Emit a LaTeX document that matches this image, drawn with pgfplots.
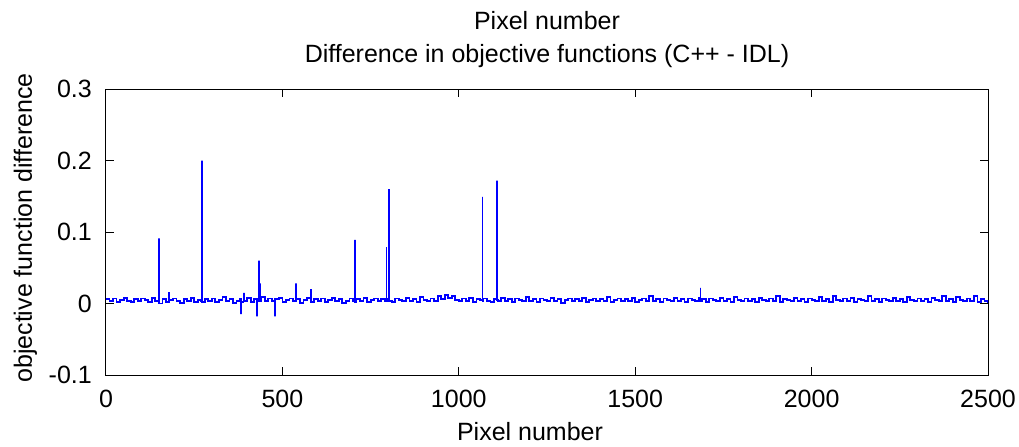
\documentclass[border=0pt]{standalone}
\usepackage{fontspec}
\setmainfont{Liberation Sans}
\usepackage{pgfplots}
\pgfplotsset{compat=1.18}
\newcommand{\mfont}{\fontsize{25bp}{30bp}\selectfont}
\definecolor{mblue}{RGB}{0,0,255}
\begin{document}
\begin{tikzpicture}
\path[use as bounding box] (-106bp,-72bp) rectangle (913bp,375bp);
\begin{axis}[
  scale only axis, width=882bp, height=286bp,
  xmin=0, xmax=2500, ymin=-0.1, ymax=0.3,
  xtick={0,500,1000,1500,2000,2500},
  xticklabels={0,500,1000,1500,2000,2500},
  ytick={-0.1,0,0.1,0.2,0.3},
  yticklabels={-0.1,0,0.1,0.2,0.3},
  tick align=inside, tick pos=both, major tick length=8bp,
  axis line style={line width=1bp},
  every tick/.style={black, line width=1bp},
  xticklabel style={font=\mfont, anchor=base, yshift=-32bp, inner sep=0pt},
  yticklabel style={font=\mfont, anchor=east, xshift=-14bp, inner sep=0pt},
]
\addplot[mblue, line width=1.8bp, const plot] table {
x y
0 0.006
10 0.003
20 0.007
30 0.002
40 0.005
50 0.008
60 0.004
70 0.002
80 0.006
90 0.003
100 0.007
110 0.005
120 0.002
130 0.008
140 0.004
150 0.003
151 0.091
151 0.000
160 0.006
170 0.002
179 0.016
179 0.005
190 0.007
200 0.003
210 0.001
220 0.006
230 0.004
240 0.008
250 0.002
260 0.005
270 0.003
272 0.200
272 0.002
280 0.006
290 0.004
300 0.007
310 0.002
320 0.005
330 0.009
340 0.003
350 0.006
360 0.001
370 0.004
380 0.007
382 -0.015
382 0.002
390 0.005
391 0.015
391 0.003
400 0.008
410 0.002
420 0.006
429 -0.018
429 0.004
434 0.060
434 0.005
438 0.028
438 0.003
440 0.009
450 0.004
460 0.007
470 0.003
478 -0.018
478 0.002
480 0.006
490 0.008
500 0.002
510 0.005
520 0.007
530 0.003
538 0.028
538 0.004
540 0.006
550 0.001
560 0.005
570 0.008
580 0.003
582 0.020
582 0.002
590 0.006
600 0.004
610 0.007
620 0.002
630 0.005
640 0.008
650 0.003
660 0.006
670 0.001
680 0.004
690 0.007
700 0.003
705 0.089
705 0.002
710 0.006
720 0.004
730 0.008
740 0.002
750 0.005
760 0.007
770 0.003
780 0.006
790 0.004
795 0.079
795 0.003
800 0.006
802 0.160
802 0.004
810 0.002
820 0.007
830 0.005
840 0.003
850 0.008
860 0.004
870 0.006
880 0.002
890 0.009
900 0.005
910 0.003
920 0.007
930 0.004
940 0.010
950 0.006
960 0.012
970 0.008
980 0.011
990 0.005
1000 0.003
1010 0.007
1020 0.004
1030 0.008
1040 0.002
1050 0.006
1060 0.005
1067 0.149
1067 0.003
1070 0.007
1080 0.004
1090 0.002
1100 0.006
1108 0.172
1108 0.005
1110 0.003
1120 0.008
1130 0.004
1140 0.006
1150 0.002
1160 0.007
1170 0.005
1180 0.003
1190 0.009
1200 0.004
1210 0.006
1220 0.002
1230 0.007
1240 0.005
1250 0.003
1260 0.008
1270 0.004
1280 0.006
1290 0.001
1300 0.005
1310 0.007
1320 0.003
1330 0.006
1340 0.004
1350 0.008
1360 0.002
1370 0.005
1380 0.007
1390 0.003
1400 0.006
1410 0.004
1420 0.009
1430 0.002
1440 0.005
1450 0.007
1460 0.003
1470 0.006
1480 0.004
1490 0.008
1500 0.002
1510 0.005
1520 0.007
1530 0.003
1540 0.010
1550 0.004
1560 0.006
1570 0.002
1580 0.007
1590 0.005
1600 0.003
1610 0.008
1620 0.004
1630 0.006
1640 0.002
1650 0.007
1660 0.005
1670 0.003
1680 0.008
1685 0.022
1685 0.004
1690 0.006
1700 0.002
1710 0.007
1720 0.005
1730 0.003
1740 0.008
1750 0.004
1760 0.006
1770 0.002
1780 0.009
1790 0.005
1800 0.003
1810 0.007
1820 0.004
1830 0.006
1840 0.002
1850 0.008
1860 0.005
1870 0.003
1880 0.007
1890 0.004
1900 0.010
1910 0.002
1920 0.006
1930 0.005
1940 0.003
1950 0.008
1960 0.004
1970 0.006
1980 0.002
1990 0.007
2000 0.005
2010 0.003
2020 0.009
2030 0.004
2040 0.006
2050 0.002
2060 0.011
2070 0.005
2080 0.003
2090 0.007
2100 0.004
2110 0.008
2120 0.002
2130 0.006
2140 0.005
2150 0.003
2160 0.010
2170 0.004
2180 0.006
2190 0.002
2200 0.007
2210 0.005
2220 0.003
2230 0.008
2240 0.004
2250 0.006
2260 0.002
2270 0.009
2280 0.005
2290 0.003
2300 0.007
2310 0.004
2320 0.006
2330 0.002
2340 0.008
2350 0.005
2360 0.003
2370 0.011
2380 0.004
2390 0.006
2400 0.002
2410 0.009
2420 0.005
2430 0.003
2440 0.007
2450 0.004
2460 0.010
2470 0.002
2480 0.006
2490 0.003
2500 0.001
};
\end{axis}
\node[font=\mfont, anchor=base] at (441bp,345bp) {Pixel number};
\node[font=\mfont, anchor=base] at (441bp,312bp) {Difference in objective functions (C++ - IDL)};
\node[font=\mfont, anchor=base] at (424bp,-65bp) {Pixel number};
\node[font=\mfont, anchor=base, rotate=90] at (-74bp,147bp) {objective function difference};
\end{tikzpicture}
\end{document}
